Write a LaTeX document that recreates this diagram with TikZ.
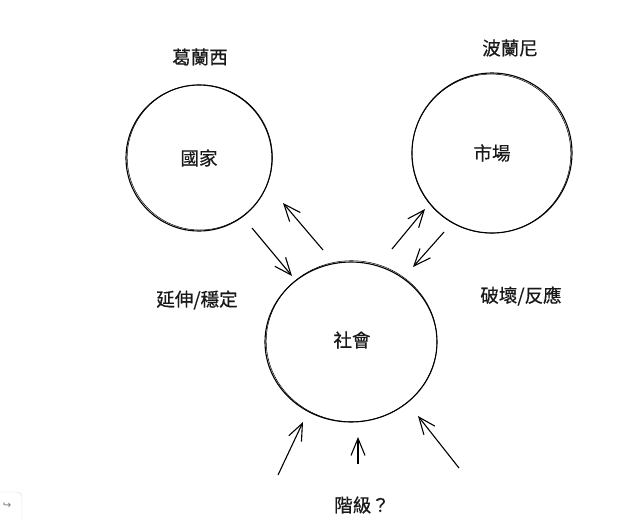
\documentclass[tikz,border=0pt]{standalone}
\usepackage{fontspec}
\newfontfamily\cjk[FakeBold=0.5]{Noto Sans CJK TC}
\newfontfamily\djv{DejaVu Sans}
\usetikzlibrary{arrows.meta}
\begin{document}
\begin{tikzpicture}[x=1pt,y=-1pt,
  lbl/.style={font=\cjk\fontsize{18.5}{22}\selectfont, text=black!90},
  ring/.style={draw=black, line width=1.1pt},
  ring2/.style={draw=black, line width=0.5pt},
  sk/.style={draw=black, line width=1.1pt, -{Straight Barb[length=17pt,width=14pt,line width=1.1pt]}}]
\useasboundingbox (0,0) rectangle (635,520);
\fill[white] (0,0) rectangle (635,520);
% circles
\draw[ring] (199,158) circle (73);
\draw[ring2] (199.8,157.4) circle (72.6);
\draw[ring] (492,153) circle (80);
\draw[ring2] (491.3,153.6) circle (79.5);
\draw[ring] (351,342) ellipse (86 and 80);
\draw[ring2] (351.6,341.2) ellipse (85.4 and 80.5);
% nodes
\node[lbl] (gr) at (200,57) {葛蘭西};
\node[lbl] (po) at (510,48) {波蘭尼};
\node[lbl] (st) at (199,158) {國家};
\node[lbl] (mk) at (492,153) {市場};
\node[lbl] (so) at (352,340) {社會};
\node[lbl] (ex) at (197,300) {延伸/穩定};
\node[lbl] (br) at (521,296) {破壞/反應};
\node[lbl] (cl) at (362,505) {階級？};
% arrow coordinates
\coordinate (a1s) at (252,228); \coordinate (a1e) at (292,276);
\coordinate (a2s) at (323,250); \coordinate (a2e) at (283,203);
\coordinate (a3s) at (392,249); \coordinate (a3e) at (425,209);
\coordinate (a4s) at (444,232); \coordinate (a4e) at (413,267);
\coordinate (b1s) at (278,475); \coordinate (b1e) at (303,422);
\coordinate (b2s) at (358,464); \coordinate (b2e) at (358,437);
\coordinate (b3s) at (459,468); \coordinate (b3e) at (418,416);
\draw[sk] (a1s) -- (a1e);
\draw[sk] (a2s) -- (a2e);
\draw[sk] (a3s) -- (a3e);
\draw[sk] (a4s) -- (a4e);
\draw[sk] (b1s) -- (b1e);
\draw[sk] (b2s) -- (b2e);
\draw[sk] (b3s) -- (b3e);
% UI artifact bottom-left
\draw[black!15, rounded corners=5pt] (-10,492) rectangle (22,530);
\node[font=\djv\fontsize{10}{12}\selectfont, text=black!55] (ui) at (7,506) {↪};
\end{tikzpicture}
\end{document}
